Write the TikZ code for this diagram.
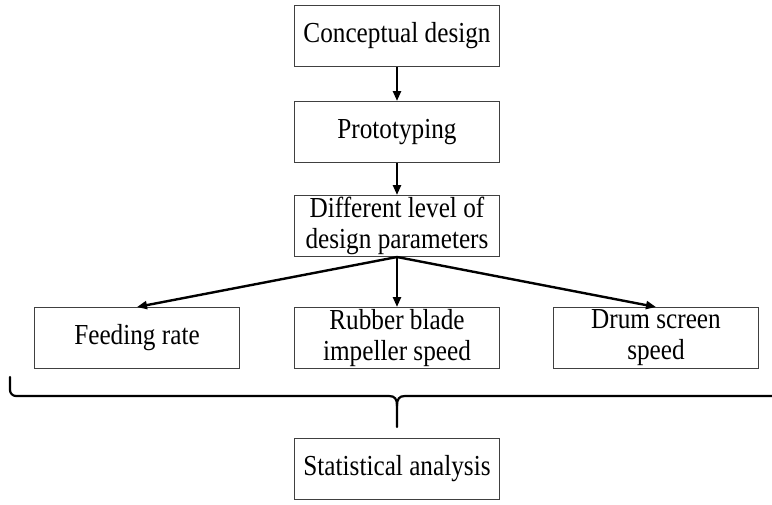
\documentclass[tikz,border=0pt]{standalone}
\usepackage{fontspec}
\setmainfont[FakeStretch=0.87]{Liberation Serif}
\usepackage{tikz}
\usetikzlibrary{positioning,arrows.meta}

\begin{document}
\begin{tikzpicture}[x=1pt, y=1pt,
      every node/.style={font=\fontsize{29}{31}\selectfont, align=center},
      stage/.style={draw=black!75, line width=1pt, minimum width=205pt,
                    minimum height=61pt, inner sep=1pt},
      arr/.style={-{Triangle[length=10pt,width=8pt]}, line width=2.4pt},
      bracket/.style={line width=2.2pt, line cap=round}
  ]
    \useasboundingbox (0,0) rectangle (772,-504);
    \node[stage] at (397,-36) (concept) {Conceptual design};
    \node[stage, below=34pt of concept] (proto) {Prototyping};
    \node[stage, below=32pt of proto] (levels) {Different level of\\design parameters};
    \node[stage, below=50pt of levels] (impeller) {Rubber blade\\impeller speed};
    \node[stage, left=54pt of impeller] (feed) {Feeding rate};
    \node[stage, right=53pt of impeller] (drum) {Drum screen\\speed};
    \node[stage, below=69pt of impeller] (stats) {Statistical analysis};
    \draw[arr] (concept) -- (proto);
    \draw[arr] (proto) -- (levels);
    \draw[arr] (levels.south) -- (feed.north);
    \draw[arr] (levels.south) -- (impeller.north);
    \draw[arr] (levels.south) -- (drum.north);
    % brace grouping the three parameters
    \draw[bracket] (10,-377) -- (10,-390) to[out=-90,in=180] (16,-396) -- (389,-396)
      .. controls (395,-396) and (397,-399) .. (397,-406) -- (397,-427);
    \draw[bracket] (772,-396) -- (405,-396)
      .. controls (399,-396) and (397,-399) .. (397,-406);
  \end{tikzpicture}
\end{document}
